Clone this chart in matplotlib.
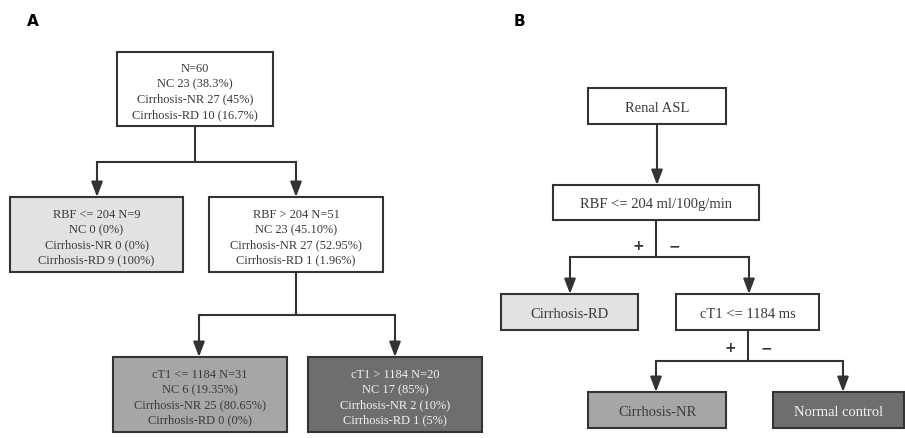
import matplotlib
matplotlib.use('Agg')
import matplotlib.pyplot as plt
from matplotlib.patches import Rectangle

# panel A: decision tree node texts
root_lines = ['N=60', 'NC 23 (38.3%)', 'Cirrhosis-NR 27 (45%)', 'Cirrhosis-RD 10 (16.7%)']
rbf_low_lines = ['RBF <= 204 N=9', 'NC 0 (0%)', 'Cirrhosis-NR 0 (0%)', 'Cirrhosis-RD 9 (100%)']
rbf_high_lines = ['RBF > 204 N=51', 'NC 23 (45.10%)', 'Cirrhosis-NR 27 (52.95%)', 'Cirrhosis-RD 1 (1.96%)']
ct1_low_lines = ['cT1 <= 1184 N=31', 'NC 6 (19.35%)', 'Cirrhosis-NR 25 (80.65%)', 'Cirrhosis-RD 0 (0%)']
ct1_high_lines = ['cT1 > 1184 N=20', 'NC 17 (85%)', 'Cirrhosis-NR 2 (10%)', 'Cirrhosis-RD 1 (5%)']

# panel B: flowchart texts
b_labels = ['Renal ASL', 'RBF <= 204 ml/100g/min', 'Cirrhosis-RD', 'cT1 <= 1184 ms',
            'Cirrhosis-NR', 'Normal control']
branch_signs = ['+', '\u2212']

W, H = 905, 438
fig = plt.figure(figsize=(W / 100, H / 100), dpi=100)
ax = fig.add_axes([0, 0, 1, 1])
ax.set_xlim(0, W)
ax.set_ylim(H, 0)
ax.axis('off')

EDGE = '#333333'
LW = 1.5
SERIF = 'Liberation Serif'
FILLS = {'white': '#ffffff', 'light': '#e2e2e2', 'mid': '#a6a6a6', 'dark': '#6e6e6e'}


def box(x0, y0, x1, y1, lines, fill='white', size=8.9, dy=3):
    ax.add_patch(Rectangle((x0, y0), x1 - x0, y1 - y0, facecolor=FILLS[fill],
                           edgecolor=EDGE, lw=LW, zorder=2))
    col = '#f2f2f2' if fill == 'dark' else '#3a3a3a'
    txt = '\n'.join(lines) if isinstance(lines, list) else lines
    ax.text((x0 + x1) / 2, (y0 + y1) / 2 + dy, txt, ha='center', va='center',
            family=SERIF, fontsize=size, color=col, linespacing=1.36, zorder=3)


def arrow(x, y0, y1):
    ax.annotate('', xy=(x, y1), xytext=(x, y0),
                arrowprops=dict(arrowstyle='-|>,head_length=0.9,head_width=0.34',
                                mutation_scale=10, color=EDGE, lw=LW,
                                shrinkA=0, shrinkB=0), zorder=3)


def split(xc, ytop, yh, xl, xr, ybot):
    ax.plot([xc, xc], [ytop, yh], color=EDGE, lw=LW, solid_capstyle='butt', zorder=1)
    ax.plot([xl, xr], [yh, yh], color=EDGE, lw=LW, solid_capstyle='projecting', zorder=1)
    arrow(xl, yh, ybot)
    arrow(xr, yh, ybot)


# ---- panel A
ax.text(27, 22, 'A', fontsize=11, fontweight='bold', family='DejaVu Sans',
        ha='left', va='center', color='black')
box(117, 52, 273, 126, root_lines)
split(195, 126, 162, 97, 296, 197)
box(10, 197, 183, 272, rbf_low_lines, 'light')
box(209, 197, 383, 272, rbf_high_lines)
split(296, 272, 315, 199, 395, 357)
box(113, 357, 287, 432, ct1_low_lines, 'mid')
box(308, 357, 482, 432, ct1_high_lines, 'dark')

# ---- panel B
ax.text(514, 22, 'B', fontsize=11, fontweight='bold', family='DejaVu Sans',
        ha='left', va='center', color='black')
box(588, 88, 726, 124, b_labels[0], size=10.5, dy=2)
arrow(657, 124, 185)
box(553, 185, 759, 220, b_labels[1], size=10.5, dy=2)
split(656, 220, 257, 570, 749, 294)
box(501, 294, 638, 330, b_labels[2], 'light', size=10.5, dy=2)
box(676, 294, 819, 330, b_labels[3], size=10.5, dy=2)
split(748, 330, 361, 656, 843, 392)
box(588, 392, 726, 428, b_labels[4], 'mid', size=10.5, dy=2)
box(773, 392, 904, 428, b_labels[5], 'dark', size=10.5, dy=2)

for xc, y in [(656, 246), (748, 348)]:
    ax.text(xc - 18, y, branch_signs[0], ha='center', va='center', fontsize=10,
            fontweight='bold', family='DejaVu Sans', color='#333333')
    ax.text(xc + 18, y, branch_signs[1], ha='center', va='center', fontsize=10,
            fontweight='bold', family='DejaVu Sans', color='#333333')

fig.savefig('out.png', dpi=100)
